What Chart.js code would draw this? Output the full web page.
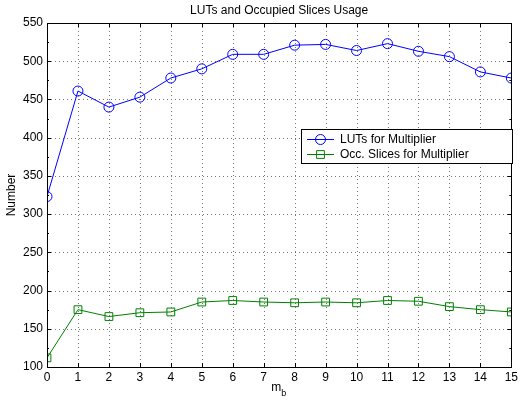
<!DOCTYPE html>
<html><head><meta charset="utf-8">
<script src="https://cdn.jsdelivr.net/npm/chart.js@4"></script>
<style>html,body{margin:0;padding:0;background:#fff}#w{width:521px;height:400px}</style>
</head><body><div id="w"><canvas id="c" width="521" height="400"></canvas></div>
<script>
const categories = [0,1,2,3,4,5,6,7,8,9,10,11,12,13,14,15];
const lutsValues = [323,461,440,453,478,490,509,509,521,522,514,523,513,506,486,478];
const slicesValues = [112,175,166,171,172,185,187,185,184,185,184,187,186,179,175,172];
const yTicks = [100,150,200,250,300,350,400,450,500,550];
const seriesNames = ['LUTs for Multiplier','Occ. Slices for Multiplier'];
const titleText = 'LUTs and Occupied Slices Usage';
const FONT = '"Liberation Sans", Arial, sans-serif';

const grid = {
  id:'dotgrid',
  beforeDatasetsDraw(chart){
    const ctx = chart.ctx, a = chart.chartArea, xs = chart.scales.x, ys = chart.scales.y;
    ctx.save();
    ctx.strokeStyle = '#777'; ctx.lineWidth = 1; ctx.setLineDash([1,3]);
    ctx.beginPath();
    categories.forEach(v=>{
      const x = Math.round(xs.getPixelForValue(v))+0.5;
      ctx.moveTo(x,a.top); ctx.lineTo(x,a.bottom);
    });
    yTicks.forEach(v=>{
      const y = Math.round(ys.getPixelForValue(v))+0.5;
      ctx.moveTo(a.left,y); ctx.lineTo(a.right,y);
    });
    ctx.stroke();
    ctx.restore();
  }
};

const deco = {
  id:'deco',
  afterDraw(chart){
    const ctx = chart.ctx, a = chart.chartArea, xs = chart.scales.x, ys = chart.scales.y;
    ctx.save();
    ctx.strokeStyle = '#000'; ctx.lineWidth = 1;
    ctx.beginPath();
    categories.forEach(v=>{
      const x = Math.round(xs.getPixelForValue(v))+0.5;
      ctx.moveTo(x,a.bottom); ctx.lineTo(x,a.bottom-4);
      ctx.moveTo(x,a.top); ctx.lineTo(x,a.top+4);
    });
    for(let v=100; v<=550; v+=25){
      const y = Math.round(ys.getPixelForValue(v))+0.5;
      const len = (v%50===0)?4:2;
      ctx.moveTo(a.left,y); ctx.lineTo(a.left+len,y);
      ctx.moveTo(a.right,y); ctx.lineTo(a.right-len,y);
    }
    ctx.stroke();
    ctx.strokeRect(Math.round(a.left)+0.5, Math.round(a.top)+0.5, Math.round(a.right-a.left), Math.round(a.bottom-a.top));
    ctx.fillStyle = '#000';
    ctx.font = '12px '+FONT;
    ctx.textAlign = 'center'; ctx.textBaseline = 'middle';
    ctx.fillText(titleText, (a.left+a.right)/2, 11);
    ctx.textAlign = 'left'; ctx.textBaseline = 'alphabetic';
    const cx = (a.left+a.right)/2;
    ctx.fillText('m', cx-8, 391);
    ctx.font = '9px '+FONT;
    ctx.fillText('b', cx+2, 396);
    ctx.font = '12px '+FONT;
    ctx.translate(15, (a.top+a.bottom)/2);
    ctx.rotate(-Math.PI/2);
    ctx.textAlign = 'center';
    ctx.fillText('Number', 0, 0);
    ctx.restore();
    // legend
    ctx.save();
    const lx = 301, ly = 129, lw = 211, lh = 34;
    ctx.fillStyle = '#fff';
    ctx.fillRect(lx, ly, lw, lh);
    ctx.strokeStyle = '#000'; ctx.lineWidth = 1;
    ctx.strokeRect(lx+0.5, ly+0.5, lw, lh);
    chart.data.datasets.forEach((ds,i)=>{
      const y = ly + 10 + i*15;
      ctx.strokeStyle = ds.borderColor; ctx.lineWidth = 1;
      ctx.beginPath(); ctx.moveTo(lx+6, y+0.5); ctx.lineTo(lx+33, y+0.5); ctx.stroke();
      ctx.fillStyle = 'rgba(0,0,0,0)';
      Chart.helpers.drawPoint(ctx, {pointStyle: ds.pointStyle, radius: ds.pointRadius, borderWidth: 1}, lx+19.5, y+0.5);
      ctx.fillStyle = '#000';
      ctx.font = '12px '+FONT;
      ctx.textAlign = 'left'; ctx.textBaseline = 'middle';
      ctx.fillText(ds.label, lx+39, y+1);
    });
    ctx.restore();
  }
};

new Chart(document.getElementById('c'), {
  type:'line',
  data:{
    labels: categories,
    datasets:[
      {label: seriesNames[0], data: lutsValues, borderColor:'#0000ff', backgroundColor:'transparent',
       borderWidth:1, pointStyle:'circle', pointRadius:5, pointBorderWidth:1, pointBorderColor:'#0000ff', pointBackgroundColor:'transparent', tension:0},
      {label: seriesNames[1], data: slicesValues, borderColor:'#008000', backgroundColor:'transparent',
       borderWidth:1, pointStyle:'rect', pointRadius:5.5, pointBorderWidth:1, pointBorderColor:'#008000', pointBackgroundColor:'transparent', tension:0}
    ]
  },
  options:{
    responsive:false, animation:false, devicePixelRatio:1,
    layout:{padding:{left:0,right:6,top:23,bottom:0}},
    plugins:{legend:{display:false}, title:{display:false}, tooltip:{enabled:false}},
    elements:{line:{fill:false}},
    scales:{
      x:{type:'linear', min:0, max:15, offset:false,
        afterBuildTicks(s){ s.ticks = categories.map(v=>({value:v})); },
        afterFit(s){ s.height = 33; },
        grid:{display:false, drawTicks:false, tickLength:0},
        border:{display:false},
        ticks:{color:'#000', font:{family:FONT, size:12}, padding:3, maxRotation:0, autoSkip:false}
      },
      y:{min:100, max:550,
        afterBuildTicks(s){ s.ticks = yTicks.map(v=>({value:v})); },
        afterFit(s){ s.width = 47; },
        grid:{display:false, drawTicks:false, tickLength:0},
        border:{display:false},
        ticks:{color:'#000', font:{family:FONT, size:12}, padding:4}
      }
    }
  },
  plugins:[grid, deco]
});
</script></body></html>
